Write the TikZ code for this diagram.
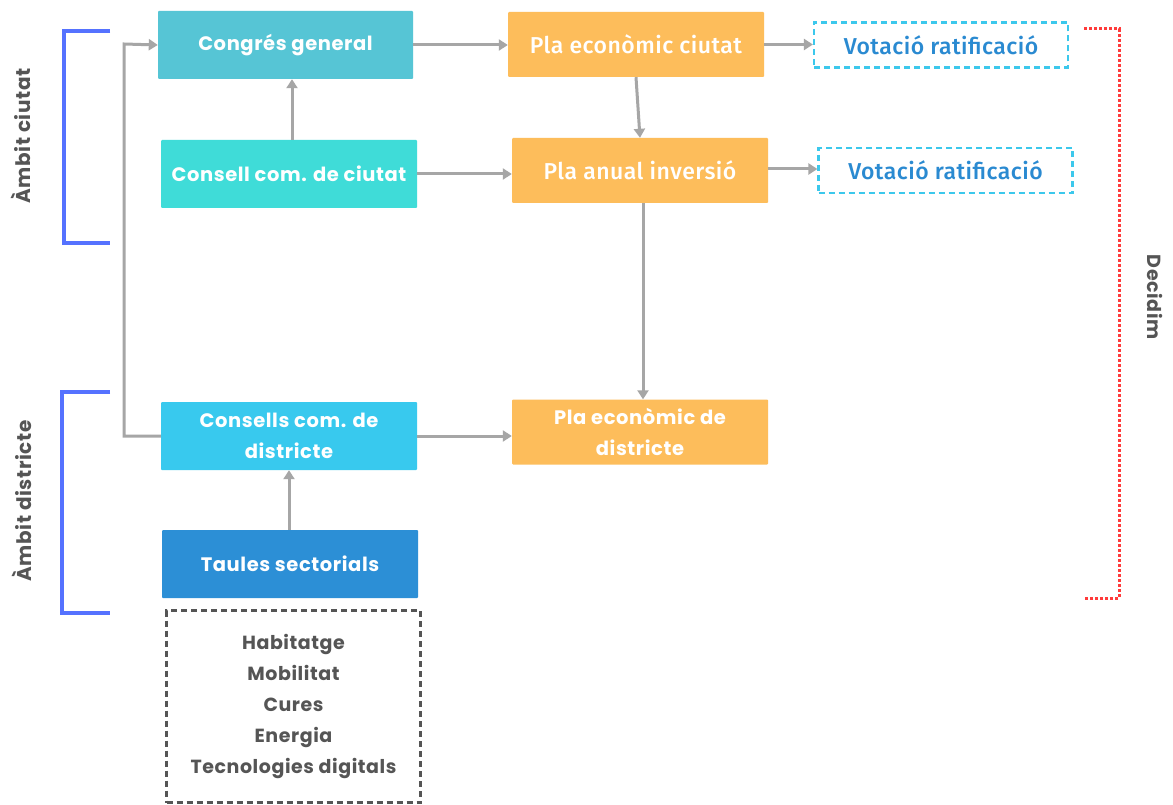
\documentclass[tikz,border=0pt]{standalone}
\usepackage{fontspec}
\setmainfont{Poppins}[UprightFont=* Bold,BoldFont=* Bold,LetterSpace=3]
\newfontfamily\condfont{Fira Sans}[UprightFont=* Medium,LetterSpace=2]
\usetikzlibrary{arrows.meta}
\definecolor{cteal}{HTML}{56C5D5}
\definecolor{cturq}{HTML}{3FDCD8}
\definecolor{corange}{HTML}{FDBD5B}
\definecolor{csky}{HTML}{38C9EE}
\definecolor{cblue}{HTML}{2C8FD6}
\definecolor{cvote}{HTML}{2A8AD1}
\definecolor{cvotebd}{HTML}{3CC8EC}
\definecolor{cbracket}{HTML}{5572FF}
\definecolor{carrow}{HTML}{A6A6A6}
\definecolor{cgray}{HTML}{555555}
\definecolor{cred}{HTML}{FF3B3B}
\begin{document}
\begin{tikzpicture}[x=1pt,y=-1pt,
  box/.style={rectangle,rounded corners=1pt,minimum width=256pt,minimum height=68pt,text=white,align=center,font=\fontsize{19.5}{31}\selectfont,inner sep=0pt},
  plabox/.style={box,fill=corange,minimum height=65pt,font=\condfont\fontsize{23}{26}\selectfont},
  votebox/.style={rectangle,draw=cvotebd,dashed,dash pattern=on 6pt off 4pt,line width=2.2pt,minimum width=254pt,minimum height=45pt,text=cvote,font=\condfont\fontsize{23}{26}\selectfont,inner sep=0pt},
  arr/.style={draw=carrow,line width=3pt,-{Triangle[length=9pt,width=11pt]}},
  brk/.style={draw=cbracket,line width=4pt},
  sidelabel/.style={text=cgray,font=\fontsize{20}{22}\selectfont},
]
\useasboundingbox (0,0) rectangle (1173,805);
\fill[white] (0,0) rectangle (1173,805);

% nodes
\node[box,fill=cteal,minimum width=255pt] (cg) at (285.5,45) {Congrés general};
\node[box,fill=cturq] (cc) at (289,174) {Consell com. de ciutat};
\node[box,fill=csky] (cd) at (289,436) {Consells com. de\\districte};
\node[box,fill=cblue] (ts) at (290,564) {Taules sectorials};
\node[plabox] (pec) at (636,44.5) {Pla econòmic ciutat};
\node[plabox] (pai) at (640,170.5) {Pla anual inversió};
\node[plabox,font=\fontsize{19.5}{31}\selectfont] (ped) at (640,432) {Pla econòmic de\\districte};
\node[votebox] (v1) at (941,45) {Votació ratificació};
\node[votebox] (v2) at (945.5,170.5) {Votació ratificació};
\node[draw=cgray,dashed,dash pattern=on 6pt off 4pt,line width=2.2pt,minimum width=254pt,minimum height=192pt,text=cgray,align=center,font=\fontsize{19}{31}\selectfont,inner sep=0pt] (list) at (293.5,706.5) {Habitatge\\Mobilitat\\Cures\\Energia\\Tecnologies digitals};

% connectors
\coordinate (jl) at (124,436);
\coordinate (jt) at (124,44);
\draw[arr] (cd.west) -- (jl) -- (jt) -- (cg.west);
\draw[arr] (cg.east) -- (pec.west |- cg.east);
\draw[arr] (pec.east) -- (v1.west |- pec.east);
\draw[arr] (pec.south) -- (pai.north);
\draw[arr] (cc.north -| 292,0) -- (cg.south -| 292,0);
\draw[arr] (cc.east) -- (pai.west |- cc.east);
\draw[arr] (pai.east |- 0,169) -- (v2.west |- 0,169);
\draw[arr] (pai.south -| 643,0) -- (ped.north -| 643,0);
\draw[arr] (cd.east) -- (ped.west |- cd.east);
\draw[arr] (ts.north -| 289,0) -- (cd.south -| 289,0);

% brackets
\coordinate (b1a) at (110,31);
\coordinate (b1b) at (64,31);
\coordinate (b1c) at (64,243);
\coordinate (b1d) at (110,243);
\draw[brk] (b1a) -- (b1b) -- (b1c) -- (b1d);
\coordinate (b2a) at (110,392);
\coordinate (b2b) at (62,392);
\coordinate (b2c) at (62,613);
\coordinate (b2d) at (110,613);
\draw[brk] (b2a) -- (b2b) -- (b2c) -- (b2d);
\node[sidelabel,rotate=90] (lc) at (21,136) {Àmbit ciutat};
\node[sidelabel,rotate=90] (ld) at (22,501) {Àmbit districte};

% Decidim
\coordinate (r1) at (1084,29);
\coordinate (r2) at (1119,29);
\coordinate (r3) at (1119,598);
\coordinate (r4) at (1084,598);
\draw[draw=cred,line width=3pt,dash pattern=on 3pt off 2pt] (r1) -- (r2) -- (r3) -- (r4);
\node[sidelabel,rotate=-90,font=\fontsize{19}{22}\selectfont] (dec) at (1155,297) {Decidim};
\end{tikzpicture}
\end{document}
